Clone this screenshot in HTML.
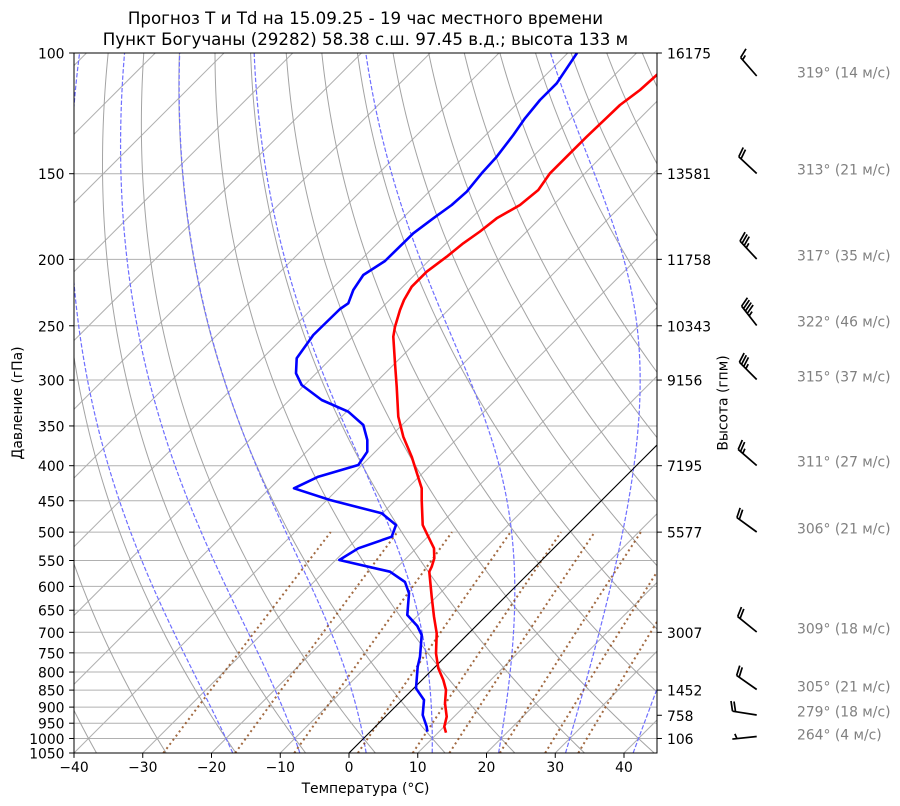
<!DOCTYPE html>
<html><head><meta charset="utf-8">
<style>
html,body{margin:0;padding:0;background:#fff;}
svg{display:block;font-family:"DejaVu Sans","Liberation Sans",sans-serif;}
</style></head><body>
<svg id="s" width="900" height="806" viewBox="0 0 900 806" xmlns="http://www.w3.org/2000/svg">
<defs><clipPath id="c"><rect x="74" y="53" width="583" height="700"/></clipPath></defs>
<rect width="900" height="806" fill="#fff"/>
<g clip-path="url(#c)">
  <g id="hgrid" stroke="#b0b0b0" stroke-width="1" fill="none"></g>
  <g id="iso" stroke="#b0b0b0" stroke-width="1" fill="none"></g>
  <g id="dry" stroke="#a3a3a3" stroke-width="1" fill="none"></g>
  <g id="moist" stroke="#6f6fff" stroke-width="1.2" fill="none" stroke-dasharray="4.4,1.9"></g>
  <g id="mix" stroke="#8b4513" stroke-opacity="0.8" stroke-width="2" fill="none" stroke-dasharray="2,3.2"></g>
  <line x1="349" y1="753" x2="1049" y2="53" stroke="#000" stroke-width="1.1"/>
  <polyline fill="none" stroke="#ff0000" stroke-width="2.6" stroke-linejoin="round" points="681,53 656.7,75 640,90 620,105 605,119.3 586.7,136.7 570,153.3 550,173.3 538.3,190 520,205 496.7,218.3 480,231.5 463.3,243.3 446.7,256.7 426.7,271.7 411.7,286.7 404,300 400,310 395,326.7 393.3,336.7 395,363.3 396.7,386.7 398.3,416.7 403.3,436.7 411.7,456.7 421.7,488.3 421.7,500 422.7,525 428.3,536.7 434,548.3 434.3,558.3 431.7,566.7 429.3,571.7 431.7,596.7 434,616.7 436.7,633.3 436,653.3 438.3,668.3 443.3,680 446,690 445,703.3 446.7,716.7 444.3,726.7 446,732.7"/>
  <polyline fill="none" stroke="#0000ff" stroke-width="2.6" stroke-linejoin="round" points="577,53 556.7,83.3 540,100 525,118.3 513.3,135 496.7,156.7 481.7,173.3 466.7,191.7 451.7,205 433.3,218.3 413.3,233.3 385,261 363.3,275 353.3,290 348.3,303.3 340,309 313.3,335 296.7,358.3 296,373.3 301.7,385 321.7,400 348.3,411.7 363.3,425 367.3,440 367.3,451.7 358.3,465 318.3,476.7 294,488.3 330,500 381.7,513.3 396,525 391.7,536.7 358.3,548.3 339.3,560 390,571.7 405,582 409,593.3 407.3,615 417.3,626 421.7,635 420,656.7 417.7,666.7 416,688.3 424,700 422.7,715 426.7,726.7 427.3,731.7"/>
</g>
<rect x="74" y="53" width="583" height="700" fill="none" stroke="#000" stroke-width="1"/>
<g id="ticks" stroke="#000" stroke-width="1"></g>
<g id="barbs" stroke="#000" stroke-width="1.7" fill="none" stroke-linecap="butt"></g>

<g font-size="16.67" fill="#000" text-anchor="middle">
<text x="365.5" y="24">Прогноз T и Td на 15.09.25 - 19 час местного времени</text>
<text x="365.5" y="45">Пункт Богучаны (29282) 58.38 с.ш. 97.45 в.д.; высота 133 м</text>
</g>

<g font-size="13.89" fill="#000" text-anchor="end">
<text x="64.5" y="58.5">100</text>
<text x="64.5" y="179.2">150</text>
<text x="64.5" y="264.8">200</text>
<text x="64.5" y="331.3">250</text>
<text x="64.5" y="385.6">300</text>
<text x="64.5" y="431.5">350</text>
<text x="64.5" y="471.2">400</text>
<text x="64.5" y="506.3">450</text>
<text x="64.5" y="537.6">500</text>
<text x="64.5" y="566">550</text>
<text x="64.5" y="591.9">600</text>
<text x="64.5" y="615.7">650</text>
<text x="64.5" y="637.8">700</text>
<text x="64.5" y="658.3">750</text>
<text x="64.5" y="677.5">800</text>
<text x="64.5" y="695.6">850</text>
<text x="64.5" y="712.6">900</text>
<text x="64.5" y="728.7">950</text>
<text x="64.5" y="744">1000</text>
<text x="64.5" y="758.5">1050</text>
</g>

<g font-size="13.89" fill="#000" text-anchor="start">
<text x="667" y="58.5">16175</text>
<text x="667" y="179.2">13581</text>
<text x="667" y="264.8">11758</text>
<text x="667" y="331.3">10343</text>
<text x="667" y="385.6">9156</text>
<text x="667" y="471.2">7195</text>
<text x="667" y="537.6">5577</text>
<text x="667" y="637.8">3007</text>
<text x="667" y="695.6">1452</text>
<text x="667" y="720.8">758</text>
<text x="667" y="744">106</text>
</g>

<g font-size="13.89" fill="#000" text-anchor="middle">
<text x="74" y="772">−40</text>
<text x="142.75" y="772">−30</text>
<text x="211.5" y="772">−20</text>
<text x="280.25" y="772">−10</text>
<text x="349" y="772">0</text>
<text x="417.75" y="772">10</text>
<text x="486.5" y="772">20</text>
<text x="555.25" y="772">30</text>
<text x="624" y="772">40</text>
<text x="365.5" y="793">Температура (°C)</text>
<text transform="translate(22,403) rotate(-90)">Давление (гПа)</text>
<text transform="translate(727.5,403) rotate(-90)">Высота (гпм)</text>
</g>

<g font-size="13.89" fill="#808080" text-anchor="start">
<text x="797" y="77.3">319° (14 м/с)</text>
<text x="797" y="174.3">313° (21 м/с)</text>
<text x="797" y="260.7">317° (35 м/с)</text>
<text x="797" y="326.7">322° (46 м/с)</text>
<text x="797" y="381.7">315° (37 м/с)</text>
<text x="797" y="466.7">311° (27 м/с)</text>
<text x="797" y="533.3">306° (21 м/с)</text>
<text x="797" y="633.3">309° (18 м/с)</text>
<text x="797" y="691.7">305° (21 м/с)</text>
<text x="797" y="716.7">279° (18 м/с)</text>
<text x="797" y="739.3">264° (4 м/с)</text>
</g>
</svg>
<script>
(function(){
const NS="http://www.w3.org/2000/svg";
const X0=349,SX=6.875,SY=297.70,YT=53,YB=753;
const Y=p=>YT+SY*Math.log(p/100);
const X=(T,p)=>X0+SX*T+(YB-Y(p));
const G=id=>document.getElementById(id);
function path(g,pts){const e=document.createElementNS(NS,'path');e.setAttribute('d','M'+pts.map(q=>q[0].toFixed(2)+','+q[1].toFixed(2)).join('L'));g.appendChild(e);return e;}
function pathd(g,d){const e=document.createElementNS(NS,'path');e.setAttribute('d',d);g.appendChild(e);return e;}
const hg=G('hgrid');
for(let p=100;p<=1050;p+=50){path(hg,[[74,Y(p)],[657,Y(p)]]);}
const iso=G('iso');
for(let T=-220;T<=60;T+=10){path(iso,[[X(T,1050),YB],[X(T,100),YT]]);}
const dry=G('dry');
const ps=[];for(let i=0;i<=90;i++){ps.push(1050*Math.pow(100/1050,i/90));}
for(let t0=-70;t0<=230;t0+=10){path(dry,ps.map(p=>{const T=(t0+273.15)*Math.pow(p/1000,0.2857)-273.15;return [X(T,p),Y(p)];}));}
const Rd=287.04749,Lv=2.50084e6,Cp=1004.6662,eps=0.6219569;
const es=Tc=>6.112*Math.exp(17.67*Tc/(Tc+243.5));
function f(lp,TK){const p=Math.exp(lp);const e=es(TK-273.15);const r=eps*e/(p-e);return (Rd*TK+Lv*r)/(Cp+Lv*Lv*r*eps/(Rd*TK*TK));}
function integ(T0,p0,p1,n){let lp=Math.log(p0),T=T0;const h=(Math.log(p1)-lp)/n;const out=[[T,p0]];for(let i=0;i<n;i++){const k1=f(lp,T),k2=f(lp+h/2,T+h/2*k1),k3=f(lp+h/2,T+h/2*k2),k4=f(lp+h,T+h*k3);T+=h/6*(k1+2*k2+2*k3+k4);lp+=h;out.push([T,Math.exp(lp)]);}return out;}
const mo=G('moist');
for(const t0 of [-20,-10,0,10,20,30,40]){const up=integ(t0+273.15,1000,100,300);const dn=integ(t0+273.15,1000,1050,10).reverse();const all=dn.concat(up.slice(1));path(mo,all.map(q=>[X(q[0]-273.15,q[1]),Y(q[1])]));}
const mx=G('mix');
for(const w of [0.0004,0.001,0.002,0.004,0.007,0.01,0.016,0.024,0.032]){const pts=[];for(let i=0;i<=30;i++){const p=1050-i*(550/30);const e=p*w/(eps+w);const v=Math.log(e/6.112);const Td=243.5*v/(17.67-v);pts.push([X(Td,p),Y(p)]);}path(mx,pts);}
const tk=G('ticks');
for(let p=100;p<=1050;p+=50){path(tk,[[69.1,Y(p)],[74,Y(p)]]);}
for(let i=0;i<=8;i++){const x=74+68.75*i;path(tk,[[x,753],[x,757.9]]);}
for(const p of [100,150,200,250,300,400,500,700,850,925,1000]){path(tk,[[657,Y(p)],[661.9,Y(p)]]);}
const bg=G('barbs');
const barbs=[[76,319,14],[173.5,313,21],[259,317,35],[325.5,322,46],[379.5,315,37],[465.5,311,27],[532,306,21],[632,309,18],[689.5,305,21],[715,279,18],[736.5,264,4]];
const L=24.5,fh=0.4*L,fw=0.25*L,sp=0.125*L,bx=756.7;
for(const b of barbs){const by=b[0],dd=b[1],s=b[2];const a=dd*Math.PI/180;const ux=Math.sin(a),uy=-Math.cos(a);const px=-uy,py=ux;
const P=(o,h)=>(bx+ux*o+px*h).toFixed(2)+','+(by+uy*o+py*h).toFixed(2);
const s5=5*Math.round(s/5);const fl=Math.floor(s5/50);const rem=s5-fl*50;const full=Math.floor(rem/10);const half=(rem-full*10)>=5;
let d='M'+P(0,0)+'L'+P(L,0);let off=L;
for(let i=0;i<full;i++){d+='M'+P(off,0)+'L'+P(off+fw/2,fh);off-=sp;}
if(half){if(off===L)off-=1.5*sp;d+='M'+P(off,0)+'L'+P(off+fw/4,fh/2);}
pathd(bg,d);}
})();
</script>
</body></html>
